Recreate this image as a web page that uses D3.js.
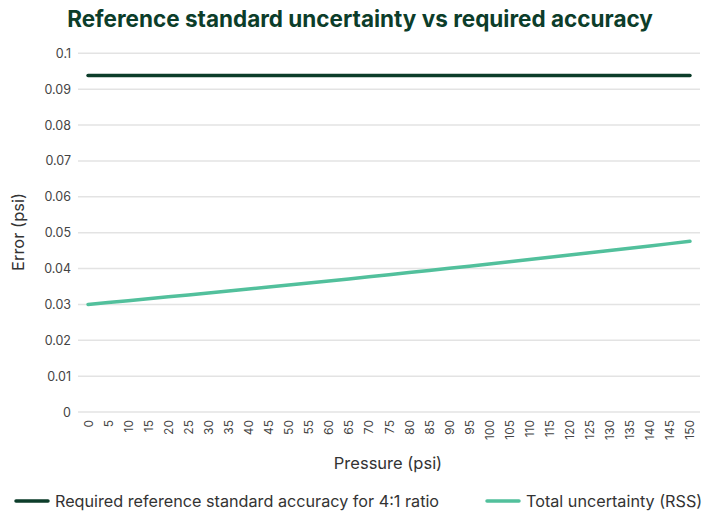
<!DOCTYPE html>
<html>
<head>
<meta charset="utf-8">
<script src="https://cdn.jsdelivr.net/npm/d3@7"></script>
<style>
body { margin: 0; background: #fff; }
svg { display: block; font-family: Inter, "Noto Sans", sans-serif; }
</style>
</head>
<body>
<svg width="702" height="514"></svg>
<script>
const pressures = [0,5,10,15,20,25,30,35,40,45,50,55,60,65,70,75,80,85,90,95,100,105,110,115,120,125,130,135,140,145,150];
const required = pressures.map(() => 0.0938);
const totalRss = [0.0300,0.03052,0.03104,0.03157,0.03210,0.03264,0.03318,0.03373,0.03428,0.03484,
	0.03540,0.03597,0.03654,0.03711,0.03769,0.03827,0.03886,0.03946,0.04006,0.04066,
	0.04127,0.04188,0.04250,0.04312,0.04374,0.04437,0.04501,0.04565,0.04629,0.04694,0.0476];
const yTicks = [0,0.01,0.02,0.03,0.04,0.05,0.06,0.07,0.08,0.09,0.1];
const series = [
	{name: 'Required reference standard accuracy for 4:1 ratio', values: required, color: '#0c3d2a'},
	{name: 'Total uncertainty (RSS)', values: totalRss, color: '#52c09c'}
];

const svg = d3.select('svg');
const plotLeft = 78, plotRight = 700, plotTop = 53.3, plotBottom = 412;

const x = d3.scaleBand().domain(pressures).range([plotLeft, plotRight]);
const y = d3.scaleLinear().domain([0, 0.1]).range([plotBottom, plotTop]);

// title
svg.append('text')
	.attr('x', 360).attr('y', 27)
	.attr('text-anchor', 'middle')
	.style('font-size', '22.5px').style('font-weight', 700)
	.style('fill', '#0c3d2a')
	.text('Reference standard uncertainty vs required accuracy');

// grid + y labels
const yAxis = svg.append('g');
yAxis.selectAll('line').data(yTicks).enter().append('line')
	.attr('x1', plotLeft).attr('x2', plotRight)
	.attr('y1', d => y(d)).attr('y2', d => y(d))
	.style('stroke', '#e3e3e3').style('stroke-width', 1.5);
yAxis.selectAll('text').data(yTicks).enter().append('text')
	.attr('x', 71).attr('y', d => y(d) + 4.5)
	.attr('text-anchor', 'end')
	.style('font-size', '12.5px').style('fill', '#444')
	.text(d => +d.toFixed(2));

// x labels
svg.append('g').selectAll('text').data(pressures).enter().append('text')
	.attr('transform', d => `translate(${x(d) + x.bandwidth()/2 + 4.5},420) rotate(-90)`)
	.attr('text-anchor', 'end')
	.style('font-size', '12px').style('fill', '#444')
	.text(d => d);

// axis titles
svg.append('text')
	.attr('x', 388).attr('y', 469)
	.attr('text-anchor', 'middle')
	.style('font-size', '16.5px').style('fill', '#333')
	.text('Pressure (psi)');
svg.append('text')
	.attr('transform', 'translate(24,232) rotate(-90)')
	.attr('text-anchor', 'middle')
	.style('font-size', '16.5px').style('fill', '#333')
	.text('Error (psi)');

// lines
const line = d3.line()
	.x((d, i) => x(pressures[i]) + x.bandwidth()/2)
	.y(d => y(d));
svg.selectAll('path.series').data(series).enter().append('path')
	.classed('series', true)
	.attr('d', d => line(d.values))
	.style('fill', 'none')
	.style('stroke', d => d.color)
	.style('stroke-width', 3.5)
	.style('stroke-linecap', 'round');

// legend
const legendX = [16, 487];
const legend = svg.selectAll('g.legend').data(series).enter().append('g')
	.classed('legend', true)
	.attr('transform', (d, i) => `translate(${legendX[i]},501)`);
legend.append('line')
	.attr('x1', 0).attr('x2', 32)
	.style('stroke', d => d.color).style('stroke-width', 3.5)
	.style('stroke-linecap', 'round');
legend.append('text')
	.attr('x', 39).attr('y', 5.5)
	.style('font-size', '16.2px').style('fill', '#333')
	.text(d => d.name);
</script>
</body>
</html>
